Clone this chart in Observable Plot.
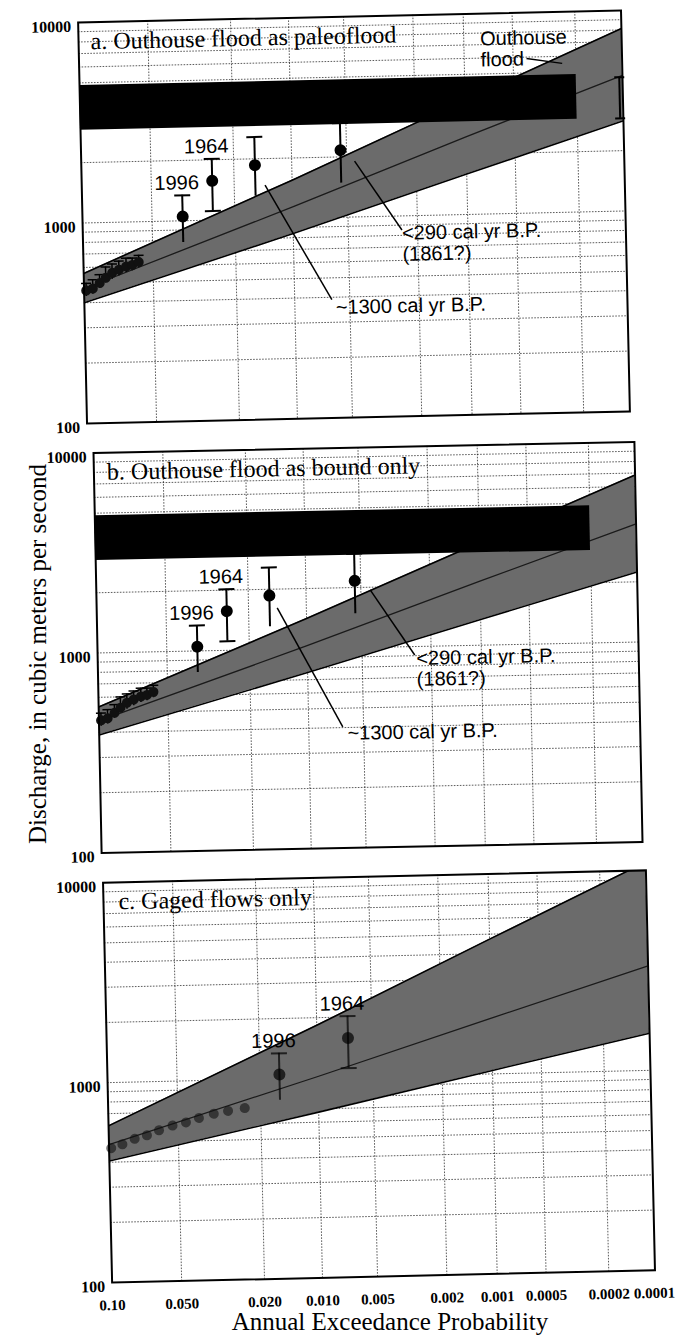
<!DOCTYPE html>
<html><head><meta charset="utf-8">
<script src="https://cdn.jsdelivr.net/npm/d3@7"></script>
<script src="https://cdn.jsdelivr.net/npm/@observablehq/plot@0.6"></script>
<style>
body{margin:0;background:#fff;}
#root{position:relative;width:676px;height:1336px;overflow:hidden;background:#fff;}
.panel{position:absolute;left:0;}
.ytitle{position:absolute;left:38px;top:654px;font-family:"Liberation Serif","Times New Roman",serif;font-size:25px;white-space:nowrap;transform:translate(-50%,-50%) rotate(-90deg);}
.xtitle{position:absolute;left:390px;top:1322px;font-family:"Liberation Serif","Times New Roman",serif;font-size:25px;white-space:nowrap;transform:translate(-50%,-50%);}
</style></head>
<body><div id="root"></div>
<script>
// ---------------- data ----------------
const probTicks = [0.1, 0.05, 0.02, 0.01, 0.005, 0.002, 0.001, 0.0005, 0.0002, 0.0001];
const probTickLabels = ["0.10", "0.050", "0.020", "0.010", "0.005", "0.002", "0.001", "0.0005", "0.0002", "0.0001"];
const dischargeTicks = [100, 1000, 10000];
const dischargeGrid = [200, 300, 400, 500, 600, 700, 800, 900, 1000, 2000, 3000, 4000, 5000, 6000, 7000, 8000, 9000];

// fitted frequency curve and confidence limits, read at these probabilities
const bandProbs = [0.1, 0.01, 0.001, 0.0001];
const aLower = [400, 840, 1590, 2820];
const aFit = [470, 1140, 2440, 4750];
const aUpper = [560, 1550, 3720, 8130];
const bLower = [389, 760, 1343, 2240];
const bFit = [457, 1035, 2090, 3900];
const bUpper = [537, 1416, 3250, 6840];
const cLower = [406, 674, 1041, 1534];
const cFit = [490, 1016, 1901, 3330];
const cUpper = [608, 1832, 4720, 11000];

// gaged annual peaks (panels a and b)
const gagedProb = [0.098, 0.092, 0.086, 0.081, 0.076, 0.071, 0.066, 0.062, 0.058];
const gagedQ = [460, 470, 500, 530, 560, 580, 600, 610, 630];
const gagedLow = [430, 440, 470, 500, 520, 540, 560, 570, 590];
const gagedHigh = [500, 520, 550, 600, 620, 640, 660, 660, 680];
// gaged annual peaks (panel c)
const gagedProbC = [0.098, 0.088, 0.078, 0.069, 0.061, 0.053, 0.046, 0.040, 0.034, 0.029, 0.024];
const gagedQC = [470, 490, 520, 540, 570, 600, 620, 650, 680, 700, 720];

// large floods with uncertainty (panels a and b)
const floodNames = ["1996", "1964", "~1300", "<290"];
const floodProb = [0.036, 0.0257, 0.0156, 0.0054];
const floodQ = [1050, 1570, 1860, 2160];
const floodLow = [780, 1110, 1300, 1480];
const floodHigh = [1340, 2020, 2570, 2950];
const floodLowCapShown = [false, true, false, false];
// gaged-only plotting positions (panel c)
const floodProbC = [0.0159, 0.0068];

// Outhouse flood
const outhouseBarProb = [0.1, 0.0002];
const outhouseLow = 2900, outhouseHigh = 4850;
const outhouseProb = 0.000105, outhouseBarLow = 2900, outhouseBarHigh = 4650;

// annotation anchors (probability, discharge)
const annA = {
  l1300: {p1: 0.0139, q1: 1476, p2: 0.00629, q2: 389, tp: 0.0060, tq: 330},
  l290: {p1: 0.00452, q1: 1899, p2: 0.00247, q2: 851, tp: 0.00247, tq: 597},
  out: {p1: 0.000412, q1: 5912, p2: 0.000245, q2: 5533, tp: 0.000795, tq: 5455}
};
const annB = {
  l1300: {p1: 0.01425, q1: 1611, p2: 0.00653, q2: 403, tp: 0.00616, tq: 347},
  l290: {p1: 0.00443, q1: 1939, p2: 0.0025, q2: 907, tp: 0.00245, tq: 635}
};

// ---------------- probability axis (Pearson III frequency factor) ----------------
function qnorm(p) {
  const a = [-3.969683028665376e+01, 2.209460984245205e+02, -2.759285104469687e+02, 1.383577518672690e+02, -3.066479806614716e+01, 2.506628277459239e+00];
  const b = [-5.447609879822406e+01, 1.615858368580409e+02, -1.556989798598866e+02, 6.680131188771972e+01, -1.328068155288572e+01];
  const c = [-7.784894002430293e-03, -3.223964580411365e-01, -2.400758277161838e+00, -2.549732539343734e+00, 4.374664141464968e+00, 2.938163982698783e+00];
  const d = [7.784695709041462e-03, 3.224671290700398e-01, 2.445134137142996e+00, 3.754408661907416e+00];
  const pl = 0.02425;
  let q, r;
  if (p < pl) { q = Math.sqrt(-2 * Math.log(p)); return (((((c[0]*q+c[1])*q+c[2])*q+c[3])*q+c[4])*q+c[5]) / ((((d[0]*q+d[1])*q+d[2])*q+d[3])*q+1); }
  if (p <= 1 - pl) { q = p - 0.5; r = q*q; return (((((a[0]*r+a[1])*r+a[2])*r+a[3])*r+a[4])*r+a[5])*q / (((((b[0]*r+b[1])*r+b[2])*r+b[3])*r+b[4])*r+1); }
  q = Math.sqrt(-2 * Math.log(1 - p));
  return -(((((c[0]*q+c[1])*q+c[2])*q+c[3])*q+c[4])*q+c[5]) / ((((d[0]*q+d[1])*q+d[2])*q+d[3])*q+1);
}
const SKEW = 0.5;
function K(p) { const z = -qnorm(p), g = SKEW; return (2 / g) * (Math.pow(1 + g * z / 6 - g * g / 36, 3) - 1); }

// ---------------- helpers ----------------
const SERIF = "Liberation Serif, Times New Roman, serif";
const SANS = "Liberation Sans, Arial, sans-serif";
const capSymbol = {draw(ctx, size) { const w = Math.sqrt(size / Math.PI); ctx.moveTo(-w, 0); ctx.lineTo(w, 0); }};

function bandTable(lo, fit, up) { return bandProbs.map((p, i) => ({p, lower: lo[i], fit: fit[i], upper: up[i]})); }
function rows(probs, qs, lows, highs) { return probs.map((p, i) => ({p, q: qs[i], lo: lows ? lows[i] : null, hi: highs ? highs[i] : null, lowCap: floodLowCapShown[i]})); }

function buildPanel(cfg) {
  const band = bandTable(cfg.lower, cfg.fit, cfg.upper);
  const marks = [
    Plot.ruleY(dischargeGrid, {stroke: "#000", strokeWidth: 0.8, strokeDasharray: "1.6,1.4", strokeOpacity: 0.8}),
    Plot.ruleX(probTicks.slice(1, -1), {x: p => K(p), stroke: "#000", strokeWidth: 0.8, strokeDasharray: "1.6,1.4", strokeOpacity: 0.8}),
    Plot.areaY(band, {x: d => K(d.p), y1: "lower", y2: "upper", fill: "#6b6b6b", clip: true}),
    Plot.line(band, {x: d => K(d.p), y: "lower", stroke: "#000", strokeWidth: 1.6, clip: true}),
    Plot.line(band, {x: d => K(d.p), y: "upper", stroke: "#000", strokeWidth: 1.6, clip: true}),
    Plot.line(band, {x: d => K(d.p), y: "fit", stroke: "#1a1a1a", strokeWidth: 1.3, clip: true})
  ];
  if (cfg.outhouse) {
    marks.push(Plot.rect([{p1: outhouseBarProb[0], p2: outhouseBarProb[1], lo: outhouseLow, hi: outhouseHigh}],
      {x1: d => K(d.p1), x2: d => K(d.p2), y1: "lo", y2: "hi", fill: "#000"}));
  }
  // gaged peaks
  const g = rows(cfg.gagedProb, cfg.gagedQ, cfg.gagedLow, cfg.gagedHigh);
  if (cfg.gagedLow) {
    marks.push(Plot.ruleX(g, {x: d => K(d.p), y1: "lo", y2: "hi", stroke: "#000", strokeWidth: 1.5}));
    marks.push(Plot.dot(g, {x: d => K(d.p), y: "hi", symbol: capSymbol, r: 5, stroke: "#000", strokeWidth: 1.5, fill: "none"}));
  }
  marks.push(Plot.dot(g, {x: d => K(d.p), y: "q", r: 5, fill: "#111", fillOpacity: cfg.gagedOpacity}));
  // floods with ranges
  const f = rows(cfg.floodProb, cfg.floodQ, cfg.floodLow, cfg.floodHigh);
  const op = cfg.floodOpacity;
  marks.push(Plot.ruleX(f, {x: d => K(d.p), y1: "lo", y2: "hi", stroke: "#000", strokeWidth: 2, strokeOpacity: op}));
  marks.push(Plot.dot(f, {x: d => K(d.p), y: "hi", symbol: capSymbol, r: 8, stroke: "#000", strokeWidth: 2, fill: "none", strokeOpacity: op}));
  marks.push(Plot.dot(f.filter(d => d.lowCap), {x: d => K(d.p), y: "lo", symbol: capSymbol, r: 8, stroke: "#000", strokeWidth: 2, fill: "none", strokeOpacity: op}));
  marks.push(Plot.dot(f, {x: d => K(d.p), y: "q", r: 6, fill: "#000", fillOpacity: op}));
  // year labels above upper caps
  marks.push(Plot.text(f.slice(0, 2).map((d, i) => ({...d, name: cfg.floodNames[i]})),
    {x: d => K(d.p), y: "hi", text: "name", textAnchor: "end", lineAnchor: "bottom", dx: 17, dy: -6, fontFamily: SANS, fontSize: 20, fill: "#000"}));
  if (cfg.outhouseBar) {
    const o = [{p: outhouseProb, lo: outhouseBarLow, hi: outhouseBarHigh}];
    marks.push(Plot.ruleX(o, {x: d => K(d.p), y1: "lo", y2: "hi", stroke: "#000", strokeWidth: 2}));
    marks.push(Plot.dot(o, {x: d => K(d.p), y: "hi", symbol: capSymbol, r: 5, stroke: "#000", strokeWidth: 2, fill: "none"}));
    marks.push(Plot.dot(o, {x: d => K(d.p), y: "lo", symbol: capSymbol, r: 5, stroke: "#000", strokeWidth: 2, fill: "none"}));
  }
  if (cfg.ann) {
    const A = cfg.ann;
    const links = [A.l1300, A.l290].concat(A.out ? [A.out] : []);
    marks.push(Plot.link(links, {x1: d => K(d.p1), y1: "q1", x2: d => K(d.p2), y2: "q2", stroke: "#000", strokeWidth: 1.5}));
    marks.push(Plot.text([A.l1300], {x: d => K(d.tp), y: "tq", text: () => "~1300 cal yr B.P.", textAnchor: "start", lineAnchor: "bottom", fontFamily: SANS, fontSize: 20, fill: "#000"}));
    marks.push(Plot.text([A.l290], {x: d => K(d.tp), y: "tq", text: () => "<290 cal yr B.P.\n(1861?)", textAnchor: "start", lineAnchor: "bottom", lineHeight: 1.05, fontFamily: SANS, fontSize: 20, fill: "#000"}));
    if (A.out) marks.push(Plot.text([A.out], {x: d => K(d.tp), y: "tq", text: () => "Outhouse\nflood", textAnchor: "start", lineAnchor: "bottom", lineHeight: 1.05, fontFamily: SANS, fontSize: 20, fill: "#000"}));
  }
  marks.push(Plot.text([cfg.title], {text: d => d, frameAnchor: "top-left", textAnchor: "start", lineAnchor: "bottom", dx: cfg.titleDx, dy: 27, fontFamily: SERIF, fontSize: 24, fill: "#000"}));
  marks.push(Plot.frame({stroke: "#000", strokeWidth: 2}));
  marks.push(Plot.axisY({ticks: dischargeTicks, tickSize: 0, tickPadding: 7, dy: 4, tickFormat: d => String(d), fontFamily: SERIF, fontSize: 16, fontWeight: "bold", fill: "#000"}));
  if (cfg.xAxis) {
    const firstTicks = probTicks.slice(0, -1), lastTick = probTicks.slice(-1);
    marks.push(Plot.text(firstTicks, {x: p => K(p), text: (p, i) => probTickLabels[i], frameAnchor: "bottom", lineAnchor: "top", dy: 17, fontFamily: SERIF, fontSize: 15, fontWeight: "bold", fill: "#000"}));
    marks.push(Plot.text(lastTick, {x: p => K(p), text: () => probTickLabels[probTickLabels.length - 1], frameAnchor: "bottom", lineAnchor: "top", dy: 17, dx: -1, fontFamily: SERIF, fontSize: 15, fontWeight: "bold", fill: "#000"}));
  }
  const svg = Plot.plot({
    width: 676, height: cfg.height,
    marginLeft: cfg.ml, marginRight: 676 - cfg.ml - cfg.w, marginTop: 20, marginBottom: cfg.height - 20 - cfg.h,
    style: {background: "transparent", overflow: "visible", fontFamily: SERIF},
    x: {domain: [K(0.1), K(0.0001)], axis: null},
    y: {type: "log", domain: [100, 10000]},
    marks
  });
  const div = document.createElement("div");
  div.className = "panel";
  div.style.top = cfg.top + "px";
  div.style.transformOrigin = (cfg.ml + cfg.w / 2) + "px " + (20 + cfg.h / 2) + "px";
  div.style.transform = "rotate(" + cfg.rot + "deg)";
  div.appendChild(svg);
  return div;
}

const root = document.getElementById("root");
root.appendChild(buildPanel({
  title: "a. Outhouse flood as paleoflood", titleDx: 12,
  lower: aLower, fit: aFit, upper: aUpper, outhouse: true, outhouseBar: true,
  gagedProb, gagedQ, gagedLow, gagedHigh, gagedOpacity: 1,
  floodProb, floodQ, floodLow, floodHigh, floodNames, floodOpacity: 1,
  ann: annA, xAxis: false,
  ml: 82, w: 543, h: 401, height: 441, top: -4, rot: -1.27
}));
root.appendChild(buildPanel({
  title: "b. Outhouse flood as bound only", titleDx: 13,
  lower: bLower, fit: bFit, upper: bUpper, outhouse: true, outhouseBar: false,
  gagedProb, gagedQ, gagedLow, gagedHigh, gagedOpacity: 1,
  floodProb, floodQ, floodLow, floodHigh, floodNames, floodOpacity: 1,
  ann: annB, xAxis: false,
  ml: 97, w: 541, h: 400, height: 440, top: 427, rot: -1.16
}));
root.appendChild(buildPanel({
  title: "c. Gaged flows only", titleDx: 15,
  lower: cLower, fit: cFit, upper: cUpper, outhouse: false, outhouseBar: false,
  gagedProb: gagedProbC, gagedQ: gagedQC, gagedLow: null, gagedHigh: null, gagedOpacity: 0.6,
  floodProb: floodProbC, floodQ: floodQ.slice(0, 2), floodLow: floodLow.slice(0, 2), floodHigh: floodHigh.slice(0, 2), floodNames, floodOpacity: 0.7,
  ann: null, xAxis: true,
  ml: 107, w: 543, h: 400, height: 470, top: 856, rot: -1.3
}));

const yt = document.createElement("div"); yt.className = "ytitle"; yt.textContent = "Discharge, in cubic meters per second"; root.appendChild(yt);
const xt = document.createElement("div"); xt.className = "xtitle"; xt.textContent = "Annual Exceedance Probability"; root.appendChild(xt);
</script>
</body></html>
